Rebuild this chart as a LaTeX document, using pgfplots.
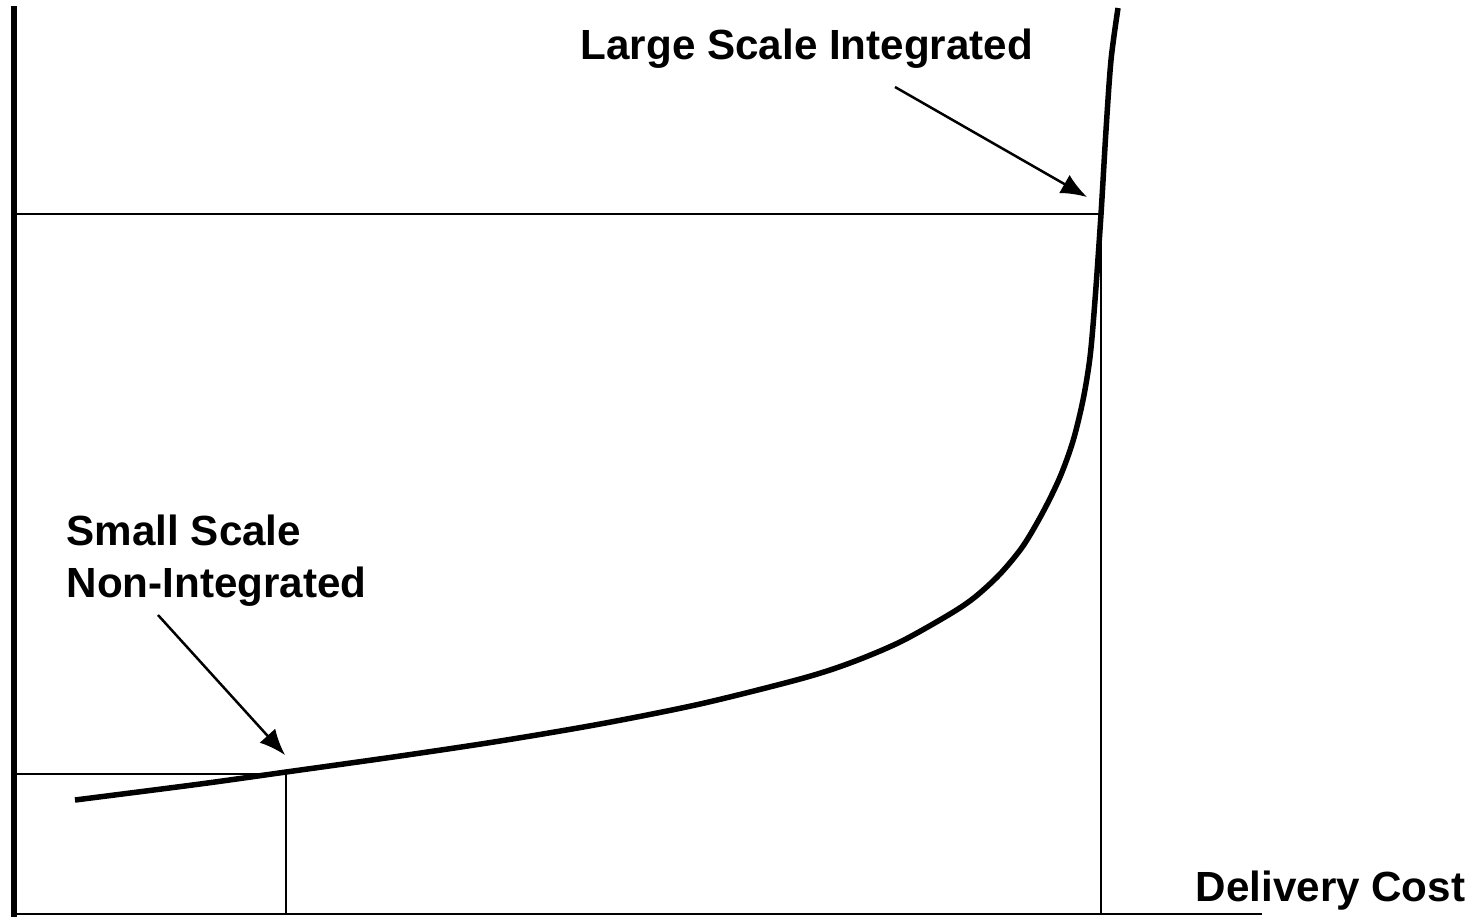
\documentclass[border=0pt]{standalone}
\usepackage{fontspec}
\setmainfont{Liberation Sans}
\usepackage{pgfplots}
\pgfplotsset{compat=1.18}
\usetikzlibrary{arrows.meta}
\begin{document}
\begin{tikzpicture}
\begin{axis}[
  width=14.77cm, height=9.17cm, scale only axis,
  xmin=0, xmax=1477, ymin=0, ymax=917,
  axis line style={draw=none}, ticks=none,
  clip=false,
]
% y axis (thick)
\addplot[black, line width=0.55mm] coordinates {(14,911) (14,0)};
% x axis (thin)
\addplot[black, line width=0.2mm] coordinates {(14,3) (1262,3)};
% reference lines: large scale
\addplot[black, line width=0.2mm] coordinates {(14,703) (1101,703) (1101,3)};
% reference lines: small scale
\addplot[black, line width=0.2mm] coordinates {(14,143) (286,143) (286,3)};
% cost curve
\addplot[black, line width=0.55mm, smooth] coordinates {
(75,117) (200,133) (286,145) (400,161) (500,176) (600,193) (700,213)
(800,238) (850,254) (900,275) (950,303) (975,320) (1000,343)
(1023,371) (1043,405) (1060,440) (1073,476) (1083,517) (1090,560)
(1095,617) (1101,703) (1106,787) (1111,857) (1118,909)
};
% arrows
\addplot[black, line width=0.25mm, -{Latex[length=2.6mm,width=2.1mm]}] coordinates {(895,830) (1087,720)};
\addplot[black, line width=0.25mm, -{Latex[length=2.6mm,width=2.1mm]}] coordinates {(158,302) (285,162)};
% labels
\node[anchor=base west, inner sep=0pt, font=\fontsize{12}{14}\selectfont\bfseries] at (axis cs:580,857) {Large Scale Integrated};
\node[anchor=base west, inner sep=0pt, font=\fontsize{12}{14}\selectfont\bfseries] at (axis cs:66,372) {Small Scale};
\node[anchor=base west, inner sep=0pt, font=\fontsize{12}{14}\selectfont\bfseries] at (axis cs:66,320) {Non-Integrated};
\node[anchor=base east, inner sep=0pt, font=\fontsize{12}{14}\selectfont\bfseries] at (axis cs:1466,16) {Delivery Cost};
\end{axis}
\end{tikzpicture}
\end{document}
